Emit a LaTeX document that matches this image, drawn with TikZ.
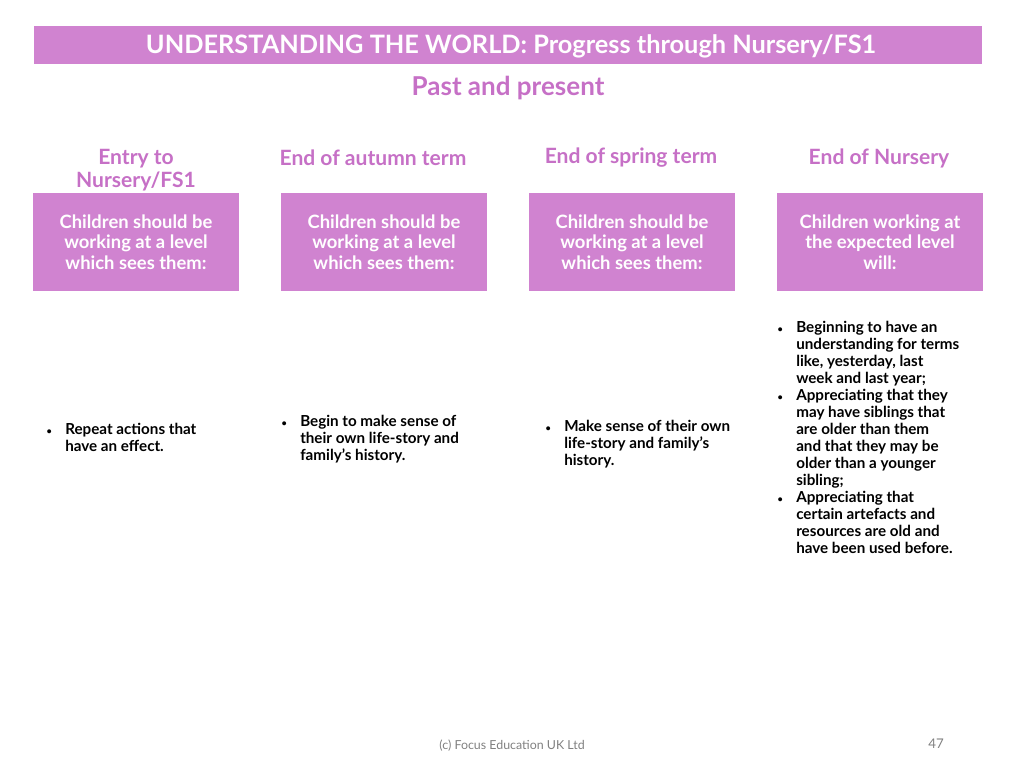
\documentclass[tikz,border=0pt]{standalone}
\usepackage{fontspec}
\setmainfont{Lato}
\definecolor{pk}{HTML}{D083D0}
\definecolor{pkt}{HTML}{C670C6}
\newcommand{\bul}{\makebox[15pt][l]{\hspace{1pt}\scalebox{0.6}{•}}}
\newcommand{\ind}{\hspace{15pt}}
\begin{document}
\begin{tikzpicture}[x=0.75pt,y=-0.75pt,
 hdr/.style={text=pkt,font=\fontsize{15.8}{17}\selectfont\bfseries,align=center},
 bx/.style={fill=pk,minimum width=154.5pt,minimum height=73.5pt,text=white,align=center,font=\fontsize{13.8}{15.4}\selectfont\bfseries},
 bl/.style={anchor=north west,align=left,font=\fontsize{11.4}{12.75}\selectfont\bfseries,inner sep=0pt}]
\useasboundingbox (0,0) rectangle (1024,768);
\node[fill=pk,minimum width=711pt,minimum height=28.5pt,anchor=north west,inner sep=0pt] (band) at (34,26) {};
\node[text=white,font=\fontsize{19}{22}\selectfont\bfseries] (title) at (511,46) {UNDERSTANDING THE WORLD: Progress through Nursery/FS1};
\node[text=pkt,font=\fontsize{19.5}{22}\selectfont\bfseries] (sub) at (508,88) {Past and present};
\node[hdr,anchor=north] (h1) at (136,145) {Entry to\\Nursery/FS1};
\node[hdr] (h2) at (373,158) {End of autumn term};
\node[hdr] (h3) at (631,158) {End of spring term};
\node[hdr] (h4) at (879,158) {End of Nursery};
\node[bx] (b1) at (136,242) {Children should be\\working at a level\\which sees them:};
\node[bx] (b2) at (384,242) {Children should be\\working at a level\\which sees them:};
\node[bx] (b3) at (632,242) {Children should be\\working at a level\\which sees them:};
\node[bx] (b4) at (880,242) {Children working at\\the expected level\\will:};
\node[bl] (t1) at (45,423) {\bul Repeat actions that\\\ind have an effect.};
\node[bl] (t2) at (280,415) {\bul Begin to make sense of\\\ind their own life-story and\\\ind family's history.};
\node[bl] (t3) at (544,420) {\bul Make sense of their own\\\ind life-story and family's\\\ind history.};
\node[bl] (t4) at (776,321) {\bul Beginning to have an\\\ind understanding for terms\\\ind like, yesterday, last\\\ind week and last year;\\\bul Appreciating that they\\\ind may have siblings that\\\ind are older than them\\\ind and that they may be\\\ind older than a younger\\\ind sibling;\\\bul Appreciating that\\\ind certain artefacts and\\\ind resources are old and\\\ind have been used before.};
\node[text=gray,font=\fontsize{9.3}{10}\selectfont] (ft) at (512,746) {(c) Focus Education UK Ltd};
\node[text=gray,font=\fontsize{10}{10}\selectfont] (pg) at (936,744) {47};
\end{tikzpicture}
\end{document}
